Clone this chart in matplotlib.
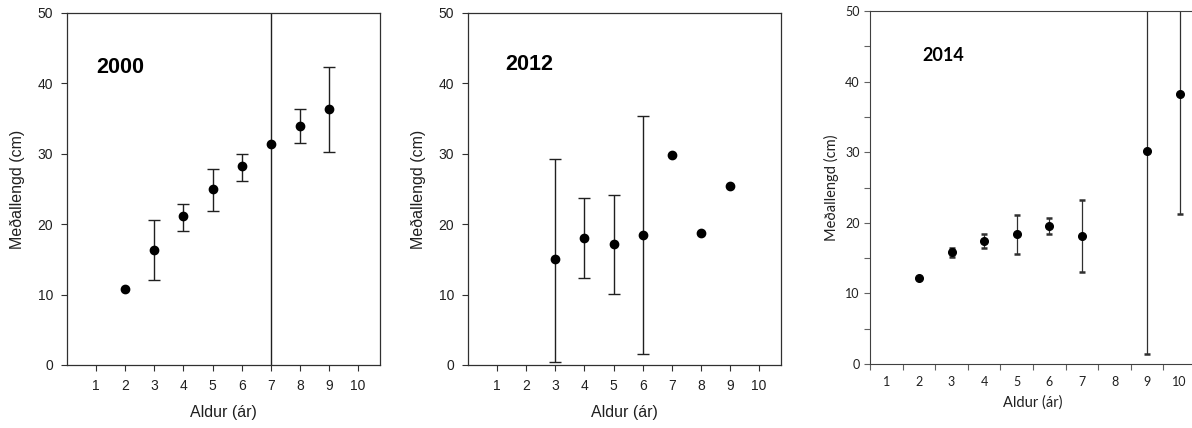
import matplotlib
matplotlib.use("Agg")
import matplotlib.pyplot as plt
import numpy as np

nan = np.nan

# 2000
age_2000 = [2, 3, 4, 5, 6, 7, 8, 9]
mean_2000 = [10.8, 16.4, 21.1, 25.0, 28.2, 31.4, 34.0, 36.4]
low_2000 = [nan, 12.1, 19.1, 21.9, 26.1, -4.6, 31.5, 30.2]
high_2000 = [nan, 20.6, 22.8, 27.9, 30.0, 67.4, 36.3, 42.4]

# 2012
age_2012 = [3, 4, 5, 6, 7, 8, 9]
mean_2012 = [15.0, 18.1, 17.2, 18.4, 29.8, 18.7, 25.4]
low_2012 = [0.4, 12.3, 10.1, 1.5, nan, nan, nan]
high_2012 = [29.3, 23.7, 24.1, 35.3, nan, nan, nan]

# 2014 (category axis, Excel style)
age_2014 = [2, 3, 4, 5, 6, 7, 9, 10]
mean_2014 = [12.2, 15.8, 17.4, 18.4, 19.6, 18.2, 30.1, 38.3]
low_2014 = [nan, 15.1, 16.4, 15.6, 18.4, 13.1, 1.4, 21.3]
high_2014 = [nan, 16.5, 18.4, 21.1, 20.7, 23.3, 58.8, 55.3]
cat_labels = ["1", "2", "3", "4", "5", "6", "7", "8", "9", "10"]

W, H = 1192, 428
fig = plt.figure(figsize=(W / 100, H / 100), dpi=100)


def draw_points(ax, x, y, lo, hi, ms, ecolor, elw, capsize, capthick):
    x = np.array(x, dtype=float)
    y = np.array(y, dtype=float)
    lo = np.array(lo, dtype=float)
    hi = np.array(hi, dtype=float)
    has = ~np.isnan(lo)
    ax.errorbar(x[has], y[has], yerr=[y[has] - lo[has], hi[has] - y[has]],
                fmt="none", ecolor=ecolor, elinewidth=elw, capsize=capsize,
                capthick=capthick, zorder=2)
    ax.plot(x, y, "o", color="black", ms=ms, zorder=3)


def sigma_panel(rect, x, y, lo, hi, year, year_xy):
    ax = fig.add_axes(rect)
    draw_points(ax, x, y, lo, hi, 6, "#202020", 1, 4.5, 1)
    ax.set_xlim(0, 10.75)
    ax.set_ylim(0, 50)
    ax.set_xticks(range(1, 11))
    ax.set_yticks(range(0, 51, 10))
    for s in ax.spines.values():
        s.set_linewidth(0.9)
        s.set_color("#303030")
    ax.tick_params(direction="out", length=4, width=0.8, colors="#303030",
                   labelsize=10, labelcolor="#202020", pad=6)
    ax.set_xlabel("Aldur (ár)", fontsize=11.5, labelpad=9, color="#202020")
    ax.set_ylabel("Meðallengd (cm)", fontsize=11.5, labelpad=9, color="#202020")
    ax.text(year_xy[0], year_xy[1], year, fontsize=15.5, fontweight="bold",
            va="center", ha="left")
    return ax


plt.rcParams["font.family"] = ["Liberation Sans", "DejaVu Sans"]

sigma_panel([67 / W, 63 / H, 313 / W, 352 / H], age_2000, mean_2000,
            low_2000, high_2000, "2000", (1.0, 42.2))
sigma_panel([468 / W, 63 / H, 313 / W, 352 / H], age_2012, mean_2012,
            low_2012, high_2012, "2012", (1.27, 42.7))

# Excel-like panel
ax3 = fig.add_axes([870 / W, 64 / H, 326 / W, 353 / H])
draw_points(ax3, age_2014, mean_2014, low_2014, high_2014, 5.5, "#303030",
            0.9, 2.5, 1.8)
ax3.set_xlim(0.5, 10.5)
ax3.set_ylim(0, 50)
ax3.set_xticks(np.arange(0.5, 10.6, 1.0))
ax3.set_xticklabels([])
ax3.set_xticks(range(1, 11), minor=True)
ax3.set_xticklabels(cat_labels, minor=True, fontfamily="Lato", fontsize=9)
ax3.tick_params(axis="x", which="minor", length=0, pad=9, labelcolor="#202020")
ax3.tick_params(axis="x", which="major", direction="out", length=4,
                width=0.8, colors="#606060")
ax3.set_yticks(range(0, 51, 10))
ax3.set_yticks(range(5, 50, 10), minor=True)
ax3.tick_params(axis="y", which="both", direction="out", length=4, width=0.8,
                colors="#606060", labelcolor="#202020", labelsize=9)
for lab in ax3.get_yticklabels():
    lab.set_fontfamily("Lato")
for s in ax3.spines.values():
    s.set_linewidth(0.8)
    s.set_color("#404040")
ax3.set_xlabel("Aldur (ár)", fontfamily="Lato", fontsize=10.5, labelpad=5,
               color="#202020")
ax3.set_ylabel("Meðallengd (cm)", fontfamily="Lato", fontsize=10.5, labelpad=4,
               color="#202020")
ax3.text(2.1, 43.7, "2014", fontfamily="Lato", fontsize=13, fontweight="bold",
         va="center", ha="left")

fig.savefig("out.png", dpi=100)
